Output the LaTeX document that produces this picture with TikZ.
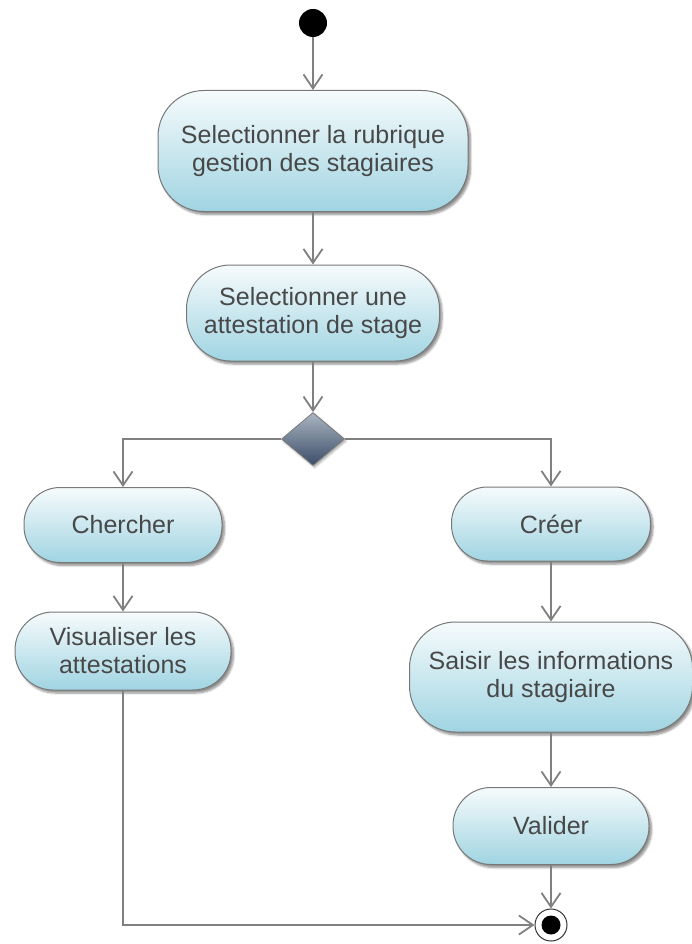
\documentclass[tikz,border=0pt]{standalone}
\usepackage{fontspec}
\setmainfont{Liberation Sans}
\usetikzlibrary{arrows.meta,shapes.geometric,shadows.blur}

\definecolor{linegray}{RGB}{128,128,128}
\definecolor{framegray}{RGB}{120,120,120}
\definecolor{txtgray}{RGB}{72,72,72}
\definecolor{actTop}{RGB}{246,251,252}
\definecolor{actBot}{RGB}{160,212,226}
\definecolor{decTop}{RGB}{172,182,194}
\definecolor{decBot}{RGB}{58,76,104}

\tikzset{
  action/.style={draw=framegray, line width=1pt,
    top color=actTop, bottom color=actBot,
    text=txtgray, align=center, inner sep=0pt,
    font=\fontsize{25}{28}\selectfont,
    blur shadow={shadow xshift=2.5pt, shadow yshift=-3pt, shadow blur steps=6, shadow opacity=45}},
  decision/.style={diamond, draw=framegray, line width=0.8pt,
    top color=decTop, bottom color=decBot, inner sep=0pt, aspect=1.2,
    minimum width=63pt, minimum height=53pt,
    blur shadow={shadow xshift=1.5pt, shadow yshift=-2pt, shadow blur steps=4, shadow opacity=35}},
  initial/.style={circle, fill=black, minimum size=28pt, inner sep=0pt},
  final/.style={circle, draw=black!80, line width=1pt, fill=white, minimum size=32pt, inner sep=0pt},
  flow/.style={draw=linegray, line width=1.8pt,
    -{Straight Barb[length=14pt, width=19pt]}},
  flowline/.style={draw=linegray, line width=1.8pt}
}

\begin{document}
\begin{tikzpicture}[x=1pt, y=-1pt]
\useasboundingbox (0,0) rectangle (691,944);

% start and end
\node[initial] (start) at (313,23) {};

% main column
\node[action, minimum width=310pt, minimum height=121pt, rounded corners=46pt]
  (rub) at (313,151) {Selectionner la rubrique\\gestion des stagiaires};
\node[action, minimum width=253pt, minimum height=96pt, rounded corners=44pt]
  (att) at (313,313) {Selectionner une\\attestation de stage};

\node[decision] (dec) at (313,439) {};

% left branch
\node[action, minimum width=198pt, minimum height=75pt, rounded corners=36pt]
  (cher) at (123,525) {Chercher};
\node[action, minimum width=216pt, minimum height=78pt, rounded corners=38pt]
  (vis) at (123,651) {Visualiser les\\attestations};

% right branch
\node[action, minimum width=199pt, minimum height=74pt, rounded corners=36pt]
  (creer) at (551,524) {Créer};
\node[action, minimum width=283pt, minimum height=110pt, rounded corners=46pt]
  (saisir) at (551,677) {Saisir les informations\\du stagiaire};
\node[action, minimum width=196pt, minimum height=77pt, rounded corners=38pt]
  (valider) at (551,826) {Valider};

\node[final] (end) at (551,925) {};
\fill[black] (end) circle (9.5pt);

% transitions
\draw[flow] (start) -- (rub);
\draw[flow] (rub) -- (att);
\draw[flow] (att) -- (dec);
\draw[flow] (dec.west) -| (cher.north);
\draw[flow] (dec.east) -| (creer.north);
\draw[flow] (cher) -- (vis);
\draw[flow] (creer) -- (saisir);
\draw[flow] (saisir) -- (valider);
\draw[flow] (valider) -- (end);
\draw[flow] (vis.south) |- (end.west);
\end{tikzpicture}
\end{document}
